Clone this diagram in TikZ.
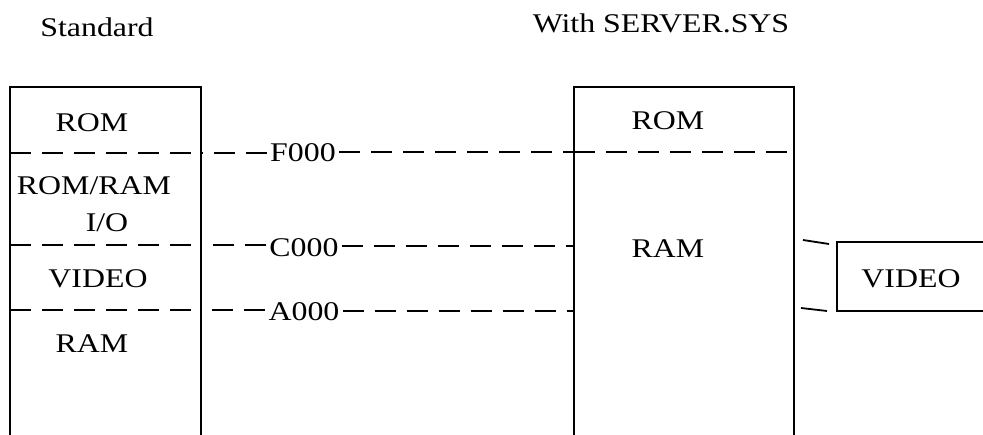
\documentclass[tikz,border=0pt]{standalone}
\usepackage{fontspec}
\setmainfont{Liberation Serif}[FakeStretch=1.18]
\begin{document}
\begin{tikzpicture}[x=1pt,y=-1pt,
  wall/.style={line width=1.8pt},
  dline/.style={line width=1.8pt, dash pattern=on 21pt off 11pt},
  lbl/.style={inner sep=0pt, anchor=base, font=\fontsize{27}{32}\selectfont},
  addr/.style={inner sep=0pt, anchor=center, font=\fontsize{27}{32}\selectfont}]
\useasboundingbox (0,0) rectangle (983,435);
% titles
\node[lbl] (tstd) at (97,37) {Standard};
\node[lbl] (tsrv) at (661,33) {With SERVER.SYS};
% left box corners
\coordinate (ltl) at (10,87); \coordinate (ltr) at (201,87);
\coordinate (lbl) at (10,435); \coordinate (lbr) at (201,435);
\draw[wall] (lbl) -- (ltl) -- (ltr) -- (lbr);
% right box corners
\coordinate (rtl) at (574,87); \coordinate (rtr) at (794,87);
\coordinate (rbl) at (574,435); \coordinate (rbr) at (794,435);
\draw[wall] (rbl) -- (rtl) -- (rtr) -- (rbr);
% address labels
\node[addr] (f) at (303,153) {F000};
\node[addr] (c) at (304,248) {C000};
\node[addr] (a) at (304,312) {A000};
% boundary coordinates
\coordinate (lf) at (10,153); \coordinate (lfr) at (201,153);
\coordinate (lc) at (10,245); \coordinate (lcr) at (201,245);
\coordinate (la) at (10,310); \coordinate (lar) at (201,310);
\coordinate (rf) at (574,152); \coordinate (rfr) at (794,152);
\coordinate (rc) at (574,246); \coordinate (ra) at (574,311);
% dashed lines
\draw[dline] (lf) -- (lfr);
\draw[dline] ([xshift=-3pt]f.west |- lfr) -- (lfr);
\draw[dline] ([xshift=3pt]f.east |- rf) -- (rf);
\draw[dline] (rf) -- (rfr);
\draw[dline] (lc) -- (lcr);
\draw[dline] ([xshift=-3pt]c.west |- lcr) -- (lcr);
\draw[dline] ([xshift=3pt]c.east |- rc) -- (rc);
\draw[dline] (la) -- (lar);
\draw[dline] ([xshift=-3pt]a.west |- lar) -- (lar);
\draw[dline] ([xshift=3pt]a.east |- ra) -- (ra);
% left box texts
\node[lbl] (l1) at (92,132) {ROM};
\node[lbl] (l2) at (94,195) {ROM/RAM};
\node[lbl] (l3) at (107,232) {I/O};
\node[lbl] (l4) at (98,288) {VIDEO};
\node[lbl] (l5) at (92,353) {RAM};
% right box texts
\node[lbl] (r1) at (668,130) {ROM};
\node[lbl] (r2) at (668,258) {RAM};
% video box
\coordinate (vtl) at (837,242); \coordinate (vtr) at (990,242);
\coordinate (vbl) at (837,311); \coordinate (vbr) at (990,311);
\draw[wall] (vtr) -- (vtl) -- (vbl) -- (vbr);
\node[lbl] (v) at (911,288) {VIDEO};
% slanted ticks
\coordinate (s1a) at (803,240); \coordinate (s1b) at (829,244);
\coordinate (s2a) at (801,308); \coordinate (s2b) at (827,311);
\draw[wall] (s1a) -- (s1b);
\draw[wall] (s2a) -- (s2b);
\end{tikzpicture}
\end{document}
